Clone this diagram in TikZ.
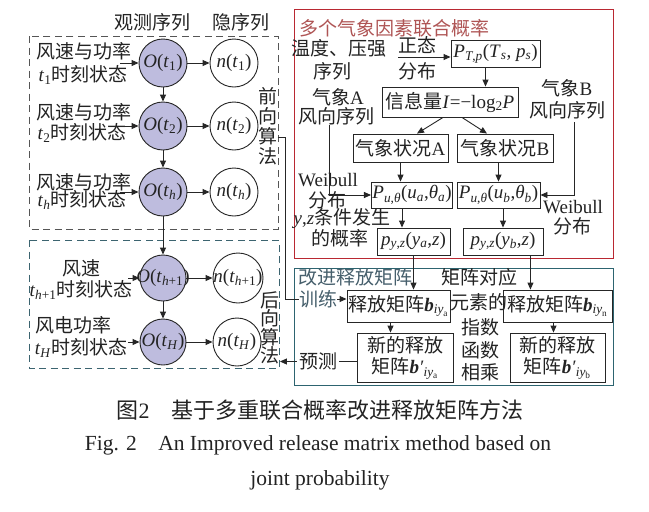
\documentclass[tikz,border=0pt]{standalone}
\usepackage[no-math]{fontspec}
\setmainfont{Noto Sans CJK SC}
\newfontfamily\lat{Liberation Serif}
\usetikzlibrary{arrows.meta,calc}
\definecolor{txt}{RGB}{35,35,35}
\definecolor{dashgray}{RGB}{85,85,85}
\definecolor{dashteal}{RGB}{60,100,112}
\definecolor{redframe}{RGB}{185,40,50}
\definecolor{tealframe}{RGB}{45,100,112}
\definecolor{redtitle}{RGB}{175,85,85}
\definecolor{tealtitle}{RGB}{70,95,108}
\definecolor{lav}{RGB}{190,188,222}
\newcommand\fs{\fontsize{19}{20}\selectfont}
\newcommand\fsm{\fontsize{19}{19}\selectfont}
\newcommand\fcap{\fontsize{21.5}{24}\selectfont}
\newcommand\cbx[1]{\makebox[34pt]{\lat #1}}
\newcommand\I[1]{\textit{#1}}
\newcommand\sub[1]{\textsubscript{#1}}
\newcommand\bb{\textbf{\textit{b}}}
\begin{document}
\begin{tikzpicture}[x=1pt,y=-1pt, line width=0.9pt,
  every node/.style={font=\fs, text=txt, inner sep=0pt},
  >={Triangle[length=7pt,width=6pt]},
  obs/.style={circle, draw=black!85, fill=lav, minimum size=48pt, font=\fsm},
  hid/.style={circle, draw=black!85, fill=white, minimum size=48pt, font=\fsm},
  box/.style={draw=black!85, inner sep=1pt},
  arr/.style={->, draw=black!85},
  line/.style={draw=black!85},
  dashbox/.style={dash pattern=on 7pt off 4.5pt, line width=1pt},
  vtext/.style={align=center, font=\fontsize{19}{20}\selectfont}
  ]
\useasboundingbox (0,0) rectangle (649,512);
\fill[white] (0,0) rectangle (649,512);

% ---------- left part ----------
\draw[dashbox, dashgray] (29,36) rectangle (278,229);
\draw[dashbox, dashteal] (29,240) rectangle (279,368);

\node (hobs) at (152,22) {观测序列};
\node (hhid) at (241,22) {隐序列};

\node[obs] (O1) at (163,63) {\cbx{\I{O}(\I{t}\sub{1})}};
\node[obs] (O2) at (163,126) {\cbx{\I{O}(\I{t}\sub{2})}};
\node[obs] (Oh) at (163,192) {\cbx{\I{O}(\I{t}\sub{\I{h}})}};
\node[obs, minimum size=46pt] (Oh1) at (163,278) {\cbx{\I{O}(\I{t}\sub{\I{h}+1})}};
\node[obs, minimum size=46pt] (OH) at (163,342) {\cbx{\I{O}(\I{t}\sub{\I{H}})}};

\node[hid] (n1) at (234,63) {\cbx{\I{n}(\I{t}\sub{1})}};
\node[hid] (n2) at (234,126) {\cbx{\I{n}(\I{t}\sub{2})}};
\node[hid] (nh) at (234,192) {\cbx{\I{n}(\I{t}\sub{\I{h}})}};
\node[hid, minimum size=50pt] (nh1) at (238,278) {\cbx{\I{n}(\I{t}\sub{\I{h}+1})}};
\node[hid] (nH) at (237,342) {\cbx{\I{n}(\I{t}\sub{\I{H}})}};

\node (l1a) at (84,51) {风速与功率};
\node (l1b) at (83,75) {{\lat\I{t}\sub{1}}时刻状态};
\node (l2a) at (84,112) {风速与功率};
\node (l2b) at (82,133) {{\lat\I{t}\sub{2}}时刻状态};
\node (l3a) at (84,182) {风速与功率};
\node (l3b) at (82,200) {{\lat\I{t}\sub{\I{h}}}时刻状态};
\node (l4a) at (82,268) {风速};
\node (l4b) at (81,290) {{\lat\I{t}\sub{\I{h}+1}}时刻状态};
\node (l5a) at (73,325) {风电功率};
\node (l5b) at (81,348) {{\lat\I{t}\sub{\I{H}}}时刻状态};

\coordinate (i1) at (120,63);
\coordinate (i2) at (120,126);
\coordinate (i3) at (120,192);
\coordinate (i4) at (128,278);
\coordinate (i5) at (128,342);
\draw[arr] (i1) -- (O1);
\draw[arr] (i2) -- (O2);
\draw[arr] (i3) -- (Oh);
\draw[arr] (i4) -- (Oh1);
\draw[arr] (i5) -- (OH);

\draw[arr] (O1) -- (O2);
\draw[arr] (O2) -- (Oh);
\draw[arr] (Oh) -- (Oh1);
\draw[arr] (Oh1) -- (OH);
\draw[arr] (O1) -- (n1);
\draw[arr] (O2) -- (n2);
\draw[arr] (Oh) -- (nh);
\draw[arr] (Oh1) -- (nh1);
\draw[arr] (OH) -- (nH);

\node[vtext] (fw) at (268,126) {前\\向\\算\\法};
\node[vtext, font=\fontsize{19}{18.5}\selectfont] (bw) at (270,328) {后\\向\\算\\法};

% ---------- red frame ----------
\draw[redframe, line width=1pt] (294,9) rectangle (613,258);
\node[text=redtitle] (ttl) at (394,28) {多个气象因素联合概率};
\node (wd) at (339,48) {温度、压强};
\node (wd2) at (332,71) {序列};
\node (zt) at (417,45) {正态};
\node (fb) at (417,71) {分布};
\node[box, minimum width=89pt, minimum height=27pt] (Pt) at (495.5,53.5) {\lat\I{P}\sub{\I{T},\I{p}}(\I{T}\sub{\I{s}}, \I{p}\sub{\I{s}})};
\node[box, minimum width=136pt, minimum height=30pt] (info) at (450,102) {信息量{\lat\I{I}=−log\sub{2}\I{P}}};
\node (qA) at (338,97) {气象{\lat A}};
\node (fA) at (336,116) {风向序列};
\node (qB) at (567,88) {气象{\lat B}};
\node (fB) at (567,110) {风向序列};
\node[box, minimum width=95pt, minimum height=28pt] (ka) at (400.5,148) {气象状况{\lat A}};
\node[box, minimum width=96pt, minimum height=28pt] (kb) at (505,148) {气象状况{\lat B}};
\node[box, minimum width=80pt, minimum height=26pt] (Pua) at (412,195) {\lat\I{P}\sub{\I{u},\I{θ}}(\I{u}\sub{\I{a}},\I{θ}\sub{\I{a}})};
\node[box, minimum width=83pt, minimum height=26pt] (Pub) at (498.5,195) {\lat\I{P}\sub{\I{u},\I{θ}}(\I{u}\sub{\I{b}},\I{θ}\sub{\I{b}})};
\node[font=\lat\fs] (wbA) at (328,180) {Weibull};
\node (fbA) at (327,200) {分布};
\node (yz1) at (342,219) {{\lat\I{y},\I{z}}条件发生};
\node (yz2) at (340,238) {的概率};
\node[box, minimum width=73pt, minimum height=27pt] (pa) at (413.5,241.5) {\lat\I{p}\sub{\I{y},\I{z}}(\I{y}\sub{\I{a}},\I{z})};
\node[box, minimum width=80pt, minimum height=27pt] (pb) at (503,241.5) {\lat\I{p}\sub{\I{y},\I{z}}(\I{y}\sub{\I{b}},\I{z})};
\node[font=\lat\fs] (wbB) at (573,207) {Weibull};
\node (fbB) at (572,226) {分布};

\coordinate (za) at (398,57);
\draw[arr] (za) -- (za -| Pt.west);
\draw[arr] ([xshift=-10pt]Pt.south) -- ([xshift=-10pt]Pt.south |- info.north);
\draw[arr] ([xshift=-7pt]info.south) -- ([xshift=16.5pt]ka.north);
\draw[arr] ([xshift=12pt]info.south) -- ([xshift=-18pt]kb.north);
\draw[arr] (ka.south) -- (ka.south |- Pua.north);
\draw[arr] (Pub.north |- kb.south) -- (Pub.north);
\draw[arr] ([xshift=-10pt]Pua.south) -- ([xshift=-10pt]Pua.south |- pa.north);
\draw[arr] (pb.north |- Pub.south) -- (pb.north);
\coordinate (wa) at (329,125);
\coordinate (wb) at (574,122);
\draw[arr] (wa) |- (Pua.west);
\draw[arr] (wb) |- (Pub.east);

% ---------- teal frame ----------
\draw[tealframe, line width=1pt] (294,268) rectangle (613,385);
\node[text=tealtitle] (gj) at (355,277) {改进释放矩阵};
\node[text=tealtitle] (xl) at (318,299) {训练};
\node (jz1) at (479,277) {矩阵对应};
\node (jz2) at (479,302) {元素的};
\node (jz3) at (480,327) {指数};
\node (jz4) at (480,350) {函数};
\node (jz5) at (480,372) {相乘};
\node[box, minimum width=103pt, minimum height=32pt] (ba) at (398.5,306) {释放矩阵{\lat\bb\sub{\I{iy}\sub{a}}}};
\node[box, minimum width=109pt, minimum height=32pt] (bn) at (557.5,306) {释放矩阵{\lat\bb\sub{\I{iy}\sub{n}}}};
\node[box, minimum width=96pt, minimum height=49pt, align=center, font=\fontsize{19}{21}\selectfont] (na) at (405,357.5) {新的释放\\矩阵{\lat\bb\I{′}\sub{\I{iy}\sub{a}}}};
\node[box, minimum width=95pt, minimum height=49pt, align=center, font=\fontsize{19}{21}\selectfont] (nb) at (557.5,357.5) {新的释放\\矩阵{\lat\bb\I{′}\sub{\I{iy}\sub{b}}}};

\draw[arr] (pa.south) -- (pa.south |- ba.north);
\draw[arr] ([xshift=-13pt]pb.south east) -- ([xshift=-13pt]pb.south east |- bn.north);
\draw[arr] ([xshift=-8pt]ba.south) -- ([xshift=-8pt]ba.south |- na.north);
\draw[arr] ([xshift=-4pt]bn.south) -- ([xshift=-4pt]bn.south |- nb.north);
\draw[arr] (xl.east) -- (xl.east -| ba.west);
\draw[line] ($(fw.east)+(0,11)$) -- ++(7,0) |- (xl.west);
\draw[arr] ([yshift=-4pt]na.west) -- node[fill=white, inner xsep=2pt] (yc) {预测} ([yshift=-4pt]na.west -| bw.east);

% ---------- caption ----------
\node[font=\fontsize{22}{24}\selectfont] (cap1) at (320,410) {图{\lat 2}\hspace{1em}基于多重联合概率改进释放矩阵方法};
\node[font=\fcap\lat] (cap2) at (318,445) {Fig. 2\hspace{1em}An Improved release matrix method based on};
\node[font=\fcap\lat] (cap3) at (320,480) {joint probability};
\end{tikzpicture}
\end{document}
